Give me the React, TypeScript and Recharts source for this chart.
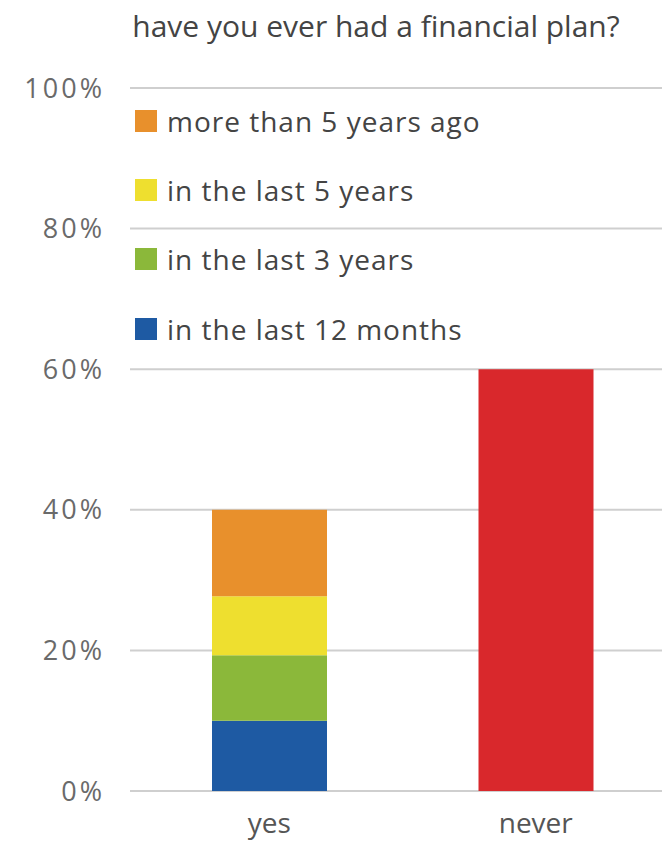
import React from 'react';
import { BarChart, Bar, XAxis, YAxis, CartesianGrid, Legend } from 'recharts';

const categories = ['yes', 'never'];
const last12Months = [10, 0];
const last3Years = [9.3, 0];
const last5Years = [8.4, 0];
const moreThan5Years = [12.3, 0];
const never = [0, 60];
const yTicks = [0, 20, 40, 60, 80, 100];

const COLORS = {
  last12Months: '#1E5AA3',
  last3Years: '#8BB83A',
  last5Years: '#EEDF2F',
  moreThan5Years: '#E8902C',
  never: '#D9282C',
};

const FONT = '"Open Sans", "Noto Sans", sans-serif';

const data = categories.map((name, i) => ({
  name,
  last12Months: last12Months[i],
  last3Years: last3Years[i],
  last5Years: last5Years[i],
  moreThan5Years: moreThan5Years[i],
  never: never[i],
}));

const legendItems = [
  { label: 'more than 5 years ago', color: COLORS.moreThan5Years },
  { label: 'in the last 5 years', color: COLORS.last5Years },
  { label: 'in the last 3 years', color: COLORS.last3Years },
  { label: 'in the last 12 months', color: COLORS.last12Months },
];

const renderLegend = () => (
  <div style={{ fontFamily: FONT }}>
    {legendItems.map((item) => (
      <div
        key={item.label}
        style={{
          display: 'flex',
          alignItems: 'center',
          height: 69.3,
          fontSize: 28,
          letterSpacing: 1,
          color: '#444',
          whiteSpace: 'nowrap',
        }}
      >
        <span style={{ width: 22, height: 22, background: item.color, marginRight: 10, display: 'inline-block' }} />
        <span>{item.label}</span>
      </div>
    ))}
  </div>
);

export default function App() {
  return (
    <div style={{ position: 'absolute', left: 0, top: 0, width: 662, height: 843, background: '#fff', overflow: 'hidden' }}>
      <div
        style={{
          position: 'absolute',
          top: 5,
          left: 126,
          width: 500,
          textAlign: 'center',
          fontFamily: FONT,
          fontSize: 30,
          color: '#444',
          whiteSpace: 'nowrap',
        }}
      >
        have you ever had a financial plan?
      </div>
      <BarChart
        width={662}
        height={843}
        data={data}
        margin={{ top: 88, right: 0, left: 0, bottom: 12 }}
        barCategoryGap={0}
      >
        <CartesianGrid vertical={false} stroke="#cfcfcf" strokeWidth={2} />
        <XAxis
          dataKey="name"
          axisLine={false}
          tickLine={false}
          height={40}
          padding={{ left: 6, right: -7 }}
          tick={{ fill: '#555', fontSize: 28, fontFamily: FONT }}
          tickMargin={16}
        />
        <YAxis
          width={130}
          domain={[0, 100]}
          ticks={yTicks}
          axisLine={false}
          tickLine={false}
          tickMargin={19}
          tickFormatter={(v) => `${v}%`}
          tick={{ fill: '#6a6a6a', fontSize: 27, fontFamily: FONT, letterSpacing: 3 }}
        />
        <Legend
          layout="vertical"
          align="center"
          verticalAlign="middle"
          content={renderLegend}
          wrapperStyle={{ top: 86, left: 135, width: 400, height: 280 }}
        />
        <Bar dataKey="last12Months" stackId="a" fill={COLORS.last12Months} barSize={115} isAnimationActive={false} />
        <Bar dataKey="last3Years" stackId="a" fill={COLORS.last3Years} barSize={115} isAnimationActive={false} />
        <Bar dataKey="last5Years" stackId="a" fill={COLORS.last5Years} barSize={115} isAnimationActive={false} />
        <Bar dataKey="moreThan5Years" stackId="a" fill={COLORS.moreThan5Years} barSize={115} isAnimationActive={false} />
        <Bar dataKey="never" stackId="a" fill={COLORS.never} barSize={115} isAnimationActive={false} />
      </BarChart>
    </div>
  );
}
